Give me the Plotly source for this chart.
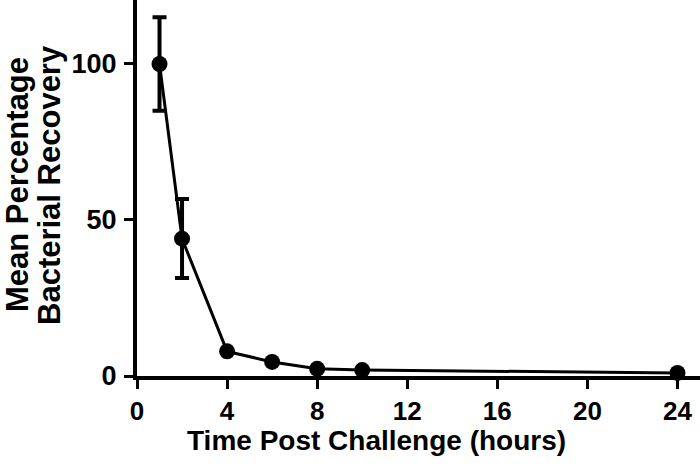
import plotly.graph_objects as go

hours = [1, 2, 4, 6, 8, 10, 24]
recovery = [100, 44, 7.9, 4.5, 2.3, 1.9, 1.0]
err_plus = [15, 12.7, 0, 0, 0, 0, 0]
err_minus = [15, 12.6, 0, 0, 0, 0, 0]
x_ticks = [0, 4, 8, 12, 16, 20, 24]
y_ticks = [0, 50, 100]
y_title_lines = ["Mean Percentage", "Bacterial Recovery"]
x_title = "Time Post Challenge (hours)"

font_family = "Liberation Sans, Arial, sans-serif"

fig = go.Figure()
fig.add_trace(go.Scatter(
    x=hours, y=recovery,
    mode="lines+markers",
    line=dict(color="black", width=3),
    marker=dict(color="black", size=16),
    error_y=dict(type="data", symmetric=False, array=err_plus, arrayminus=err_minus,
                 color="black", thickness=4, width=7),
    cliponaxis=False,
    showlegend=False,
))

fig.update_layout(
    width=700, height=466,
    margin=dict(l=137, r=0, t=0, b=90, autoexpand=False),
    plot_bgcolor="white", paper_bgcolor="white",
    font=dict(family=font_family, color="black"),
    xaxis=dict(
        range=[0, 25], tickvals=x_ticks, ticks="outside", ticklen=9, tickwidth=3,
        tickcolor="black", showline=True, linecolor="black", linewidth=4,
        showgrid=False, zeroline=False, automargin=False, ticklabelstandoff=0,
        tickfont=dict(size=26, family=font_family, weight="bold"),
    ),
    yaxis=dict(
        range=[0, 120.5], tickvals=y_ticks, ticks="outside", ticklen=9, tickwidth=3,
        tickcolor="black", showline=True, linecolor="black", linewidth=4,
        showgrid=False, zeroline=False, automargin=False, ticklabelstandoff=2,
        tickfont=dict(size=27, family=font_family, weight="bold"),
    ),
)

fig.add_annotation(
    text="<b>%s</b>" % x_title, xref="paper", yref="paper",
    x=0.5, y=0, xshift=-(137 + 563 / 2 - 376), yshift=-64,
    xanchor="center", yanchor="middle", showarrow=False,
    font=dict(size=28, family=font_family),
)
fig.add_annotation(
    text="<b>%s</b>" % y_title_lines[0], xref="paper", yref="paper",
    x=0, y=0.508, xshift=-119, xanchor="center", yanchor="middle",
    textangle=-90, showarrow=False, font=dict(size=31, family=font_family),
)
fig.add_annotation(
    text="<b>%s</b>" % y_title_lines[1], xref="paper", yref="paper",
    x=0, y=0.508, xshift=-87, xanchor="center", yanchor="middle",
    textangle=-90, showarrow=False, font=dict(size=31, family=font_family),
)

fig.write_html("out.html", config={"displayModeBar": False},
               post_script="document.body.style.margin='0';")
